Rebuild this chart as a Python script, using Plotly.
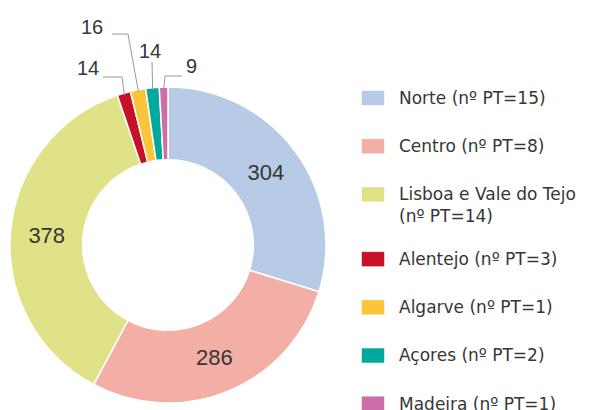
import math
import plotly.graph_objects as go

# ---- data ----
regions = ["Norte", "Centro", "Lisboa e Vale do Tejo", "Alentejo", "Algarve", "Açores", "Madeira"]
n_pt = [15, 8, 14, 3, 1, 2, 1]
values = [304, 286, 378, 14, 16, 14, 9]
colors = ["#b8cbe6", "#f3aea6", "#dfe287", "#c81028", "#fbc53b", "#00a89e", "#cc6eaa"]

W, H = 591, 410
OFF = 8  # page body margin offset
CX, CY, R = 168 - OFF, 245 - OFF, 158
FONT = "Liberation Sans, Arial, sans-serif"
LFONT = "DejaVu Sans, sans-serif"
TXT = "#363636"


def px(x, y):
    # x, y are screenshot pixels; convert to paper coords of the figure
    return (x - OFF) / W, 1 - (y - OFF) / H


big = [v >= 100 for v in values]

fig = go.Figure(go.Pie(
    labels=regions,
    values=values,
    sort=False,
    direction="clockwise",
    rotation=0,
    hole=0.54,
    marker=dict(colors=colors, line=dict(color="white", width=1.5)),
    texttemplate=["%{value}" if b else "" for b in big],
    textposition="inside",
    insidetextorientation="horizontal",
    textfont=dict(family=FONT, size=22, color=TXT),
    showlegend=False,
    domain=dict(x=[(CX - R) / W, (CX + R) / W], y=[1 - (CY + R) / H, 1 - (CY - R) / H]),
))

# ---- outside labels with leader lines for small slices ----
total = sum(values)
cum = 0
mids = []
for v in values:
    mids.append((cum + v / 2) / total * 2 * math.pi)
    cum += v

# elbow and end points and label centres (screenshot px) for small slices
leader = {
    3: dict(elbow=(122, 77), end=(103, 77), lab=(88, 68)),
    4: dict(elbow=(128, 34), end=(112, 34), lab=(92, 27)),
    5: dict(elbow=(152, 62), end=(152, 62), lab=(150, 51)),
    6: dict(elbow=(165, 76), end=(182, 76), lab=(191, 66)),
}
shapes = []
annotations = []
for i, spec in leader.items():
    a = mids[i]
    ax_, ay_ = CX + OFF + (R - 2) * math.sin(a), CY + OFF - (R - 2) * math.cos(a)
    pts = [(ax_, ay_), spec["elbow"], spec["end"]]
    path = "M " + " L ".join(f"{px(x, y)[0]},{px(x, y)[1]}" for x, y in pts)
    shapes.append(dict(type="path", xref="paper", yref="paper", path=path,
                       line=dict(color="#9a9a9a", width=1)))
    lx, ly = px(*spec["lab"])
    annotations.append(dict(x=lx, y=ly, xref="paper", yref="paper", text=str(values[i]),
                            showarrow=False, xanchor="center", yanchor="middle",
                            font=dict(family=FONT, size=20, color=TXT)))

# ---- legend (drawn manually) ----
y = 98
for i, (name, n, c) in enumerate(zip(regions, n_pt, colors)):
    x0, y0 = px(362, y - 7)
    x1, y1 = px(384, y + 7)
    shapes.append(dict(type="rect", xref="paper", yref="paper", x0=x0, x1=x1, y0=y0, y1=y1,
                       fillcolor=c, line=dict(color=c, width=0.5)))
    if len(name) > 15:
        label = f"{name}<br>(nº PT={n})"
        ty = y + 11
    else:
        label = f"{name} (nº PT={n})"
        ty = y
    tx, tyy = px(397, ty)
    annotations.append(dict(x=tx, y=tyy, xref="paper", yref="paper", text=label,
                            showarrow=False, xanchor="left", yanchor="middle", align="left",
                            font=dict(family=LFONT, size=17, color=TXT)))
    y += 48.2 + (16.5 if len(name) > 15 else 0)

fig.update_layout(
    width=W, height=H,
    margin=dict(l=0, r=0, t=0, b=0),
    paper_bgcolor="white", plot_bgcolor="white",
    shapes=shapes, annotations=annotations,
)

fig.write_html("out.html")
